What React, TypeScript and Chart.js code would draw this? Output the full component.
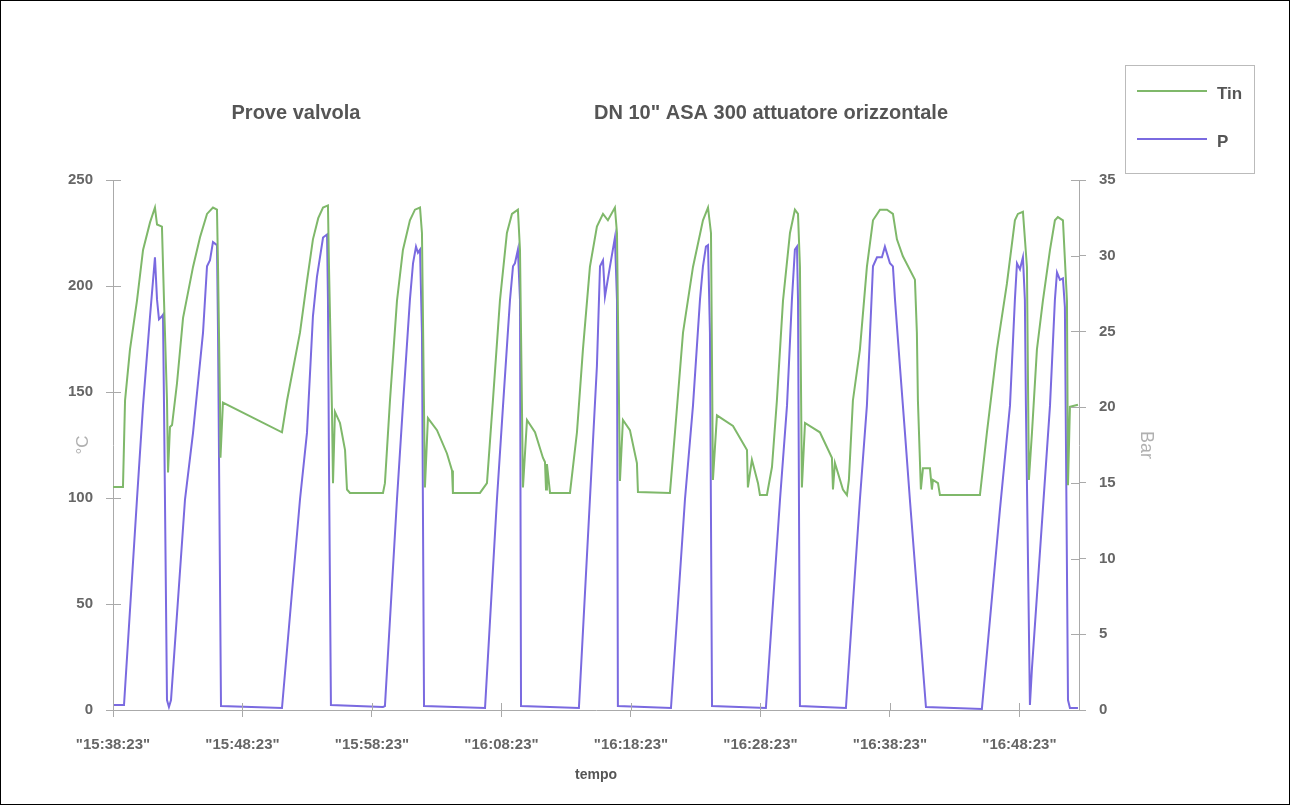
import React, { useEffect, useRef } from "react";
import { Chart, registerables } from "chart.js";

Chart.register(...registerables);

// ---- data (minutes after 15:38:23) ----
const tickMinutes = [0, 10, 20, 30, 40, 50, 60, 70];
const tickLabels = ['"15:38:23"', '"15:48:23"', '"15:58:23"', '"16:08:23"', '"16:18:23"', '"16:28:23"', '"16:38:23"', '"16:48:23"'];
const chartTitles = ["Prove valvola", 'DN 10" ASA 300 attuatore orizzontale'];
const seriesLabels = ["Tin", "P"];
const axisTitles = ["°C", "Bar", "tempo"];

const tinMinutes = [
  0, 0.77, 0.93, 1.31, 1.85, 2.32, 2.86, 3.24, 3.4, 3.78, 3.94, 4.17, 4.25, 4.4, 4.56, 4.94, 5.41, 6.18, 6.72, 7.26, 7.72,
  8.03, 8.11, 8.26, 8.3, 8.49, 13.05, 13.44, 14.44, 14.95, 15.44, 15.85, 16.22, 16.6, 16.68, 16.91, 16.99, 17.14, 17.53, 17.92, 18.07, 18.3,
  20.85, 21.0, 21.39, 21.93, 22.39, 22.93, 23.32, 23.71, 23.86, 24.09, 24.32, 25.02, 25.79, 26.18, 26.25,
  28.34, 28.88, 29.34, 29.88, 30.42, 30.81, 31.27, 31.43, 31.66, 31.97, 32.59, 33.2, 33.36, 33.44, 33.51, 33.75,
  35.29, 35.83, 36.29, 36.83, 37.37, 37.84, 38.22, 38.76, 38.92, 39.15, 39.38, 39.92, 40.46, 40.54,
  43.01, 43.4, 44.02, 44.79, 45.56, 45.95, 46.18, 46.33, 46.64, 47.88, 48.96, 49.03, 49.34, 49.81, 49.96,
  50.5, 50.89, 51.27, 51.74, 52.28, 52.66, 52.9, 53.05, 53.2, 53.44, 54.59, 55.52, 55.6, 55.75, 56.37, 56.68,
  56.83, 57.14, 57.68, 58.22, 58.69, 59.23, 59.77, 60.23, 60.54, 61.0, 61.93, 62.08, 62.16, 62.39, 62.55, 63.09,
  63.24, 63.32, 63.71, 63.86, 66.95, 67.49, 68.26, 69.03, 69.65, 69.88, 70.27, 70.58, 70.73, 70.97, 71.35, 71.81,
  72.36, 72.74, 72.97, 73.36, 73.67, 73.75, 73.9, 74.52,
];
const tinValues = [
  105.2, 105.2, 146, 170, 193, 217, 230, 237, 229, 228, 193, 146, 112, 133.5, 134.4, 154, 185, 209, 223, 234, 237,
  236, 209, 146, 119, 145, 131, 146, 178, 201, 222, 232, 237, 238, 209, 141.5, 107, 140.6, 135.4, 122.6, 104, 102.4,
  102.4, 107, 146, 193, 217, 231, 236, 237, 225, 105, 137.7, 132, 121, 113, 102.4,
  102.4, 107, 146, 193, 225, 234, 236, 217, 105, 136.8, 131, 119, 117, 104, 116, 102.4,
  102.4, 131, 170, 209, 228, 234, 231, 237, 225, 108, 136.8, 132, 116.5, 102.8,
  102.4, 131, 178, 209, 231, 237, 225, 108.5, 139, 134, 122.6, 105, 118, 107, 101.4,
  101.4, 114.6, 146, 193, 225, 236, 234, 209, 105, 135.4, 131, 119, 104, 116.5, 104, 101.4,
  108.5, 146, 170, 209, 231, 236, 236, 234, 222, 214, 203, 178, 146, 104, 114, 114,
  104, 108.5, 107, 101.4, 101.4, 131, 170, 201, 231, 234, 235, 209, 108.5, 131, 170, 193,
  217, 231, 232.5, 231, 193, 106, 143, 144,
];

const pMinutes = [
  0, 0.85, 1.85, 2.32, 2.86, 3.24, 3.4, 3.55, 3.78, 3.86, 3.94, 4.17, 4.32, 4.48, 5.56, 6.18, 6.95, 7.26, 7.49, 7.72,
  8.03, 8.11, 8.34, 13.05, 14.44, 14.98, 15.44, 15.75, 16.22, 16.53, 16.6, 16.68, 16.83,
  20.85, 21.0, 21.93, 22.39, 22.93, 23.17, 23.4, 23.55, 23.71, 23.86, 24.02,
  28.73, 29.65, 30.12, 30.66, 30.89, 31.04, 31.27, 31.43, 31.51,
  35.98, 36.83, 37.37, 37.61, 37.84, 37.99, 38.38, 38.76, 38.92, 38.99,
  43.09, 44.17, 44.79, 45.33, 45.56, 45.79, 45.95, 46.1, 46.26,
  50.42, 51.51, 52.05, 52.43, 52.66, 52.82, 52.9, 53.05,
  56.6, 57.68, 58.22, 58.69, 59.0, 59.38, 59.61, 60.0, 60.23, 60.39, 60.77, 61.16, 61.54, 62.78,
  67.1, 68.49, 69.27, 69.65, 69.81, 70.04, 70.27, 70.42, 70.5, 70.81, 70.97, 72.36, 72.74, 72.9, 73.13, 73.36,
  73.51, 73.75, 73.9, 74.52,
];
const pValues = [
  0.33, 0.33, 13.9, 20.1, 26.0, 29.9, 27.1, 25.8, 26.0, 26.1, 20.1, 0.66, 0.2, 0.66, 13.9, 18.3, 24.9, 29.3, 29.7, 30.9,
  30.7, 24.9, 0.26, 0.13, 13.9, 18.3, 26.0, 28.6, 31.2, 31.4, 27.1, 16.05, 0.33,
  0.2, 0.26, 13.9, 20.1, 27.1, 29.5, 30.6, 30.2, 30.4, 24.9, 0.26,
  0.13, 13.9, 20.1, 27.1, 29.3, 29.5, 30.4, 27.1, 0.26,
  0.13, 13.9, 22.7, 29.3, 29.7, 27.3, 29.3, 31.2, 27.1, 0.26,
  0.13, 13.9, 20.1, 27.1, 29.3, 30.6, 30.7, 24.9, 0.26,
  0.13, 13.9, 20.1, 27.1, 30.4, 30.6, 27.1, 0.26,
  0.13, 13.9, 20.1, 29.3, 29.9, 29.9, 30.6, 29.5, 29.3, 27.1, 22.7, 18.3, 13.9, 0.2,
  0.07, 13.2, 20.1, 27.1, 29.5, 29.1, 29.9, 27.1, 20.1, 0.33, 2.8, 20.1, 27.1, 28.9, 28.4, 28.5,
  26.6, 0.66, 0.13, 0.13,
];

const GREEN = "#7fb86a";
const PURPLE = "#7a6ae0";
const AXIS = "#aaaaaa";
const SANS = '"Liberation Sans", Arial, sans-serif';

export default function App() {
  const ref = useRef<HTMLCanvasElement>(null);

  useEffect(() => {
    document.body.style.margin = "0";
    const canvas = ref.current;
    if (!canvas) return;

    const overlay = {
      id: "overlay",
      afterDraw(chart: any) {
        const ctx = chart.ctx;
        const { left, right, bottom } = chart.chartArea;
        ctx.save();
        ctx.strokeStyle = AXIS;
        ctx.lineWidth = 1;
        ctx.beginPath();
        const ys = chart.scales.y;
        const y1 = chart.scales.y1;
        const xs = chart.scales.x;
        ys.ticks.forEach((t: any) => {
          const p = Math.round(ys.getPixelForValue(t.value)) + 0.5;
          ctx.moveTo(left, p);
          ctx.lineTo(left + 8, p);
        });
        y1.ticks.forEach((t: any) => {
          const p = Math.round(y1.getPixelForValue(t.value)) + 0.5;
          ctx.moveTo(right - 8, p);
          ctx.lineTo(right, p);
        });
        xs.ticks.forEach((t: any) => {
          const p = Math.round(xs.getPixelForValue(t.value)) + 0.5;
          ctx.moveTo(p, bottom);
          ctx.lineTo(p, bottom - 7);
        });
        ctx.stroke();

        // titles
        ctx.fillStyle = "#555555";
        ctx.font = `bold 20px ${SANS}`;
        ctx.textAlign = "center";
        ctx.textBaseline = "middle";
        ctx.fillText(chartTitles[0], 295, 112);
        ctx.fillText(chartTitles[1], 770, 112);

        // legend box
        ctx.strokeStyle = "#bbbbbb";
        ctx.strokeRect(1124.5, 64.5, 129, 108);
        const colors = [GREEN, PURPLE];
        const rows = [90, 138];
        ctx.font = `bold 17px ${SANS}`;
        ctx.textAlign = "left";
        seriesLabels.forEach((lab, i) => {
          ctx.strokeStyle = colors[i];
          ctx.lineWidth = 2;
          ctx.beginPath();
          ctx.moveTo(1136, rows[i]);
          ctx.lineTo(1206, rows[i]);
          ctx.stroke();
          ctx.fillStyle = "#555555";
          ctx.fillText(lab, 1216, rows[i] + 3);
        });
        ctx.restore();
      },
    };

    const tickFont = { family: SANS, size: 15, weight: "bold" as const };

    const chart = new Chart(canvas, {
      type: "line",
      data: {
        datasets: [
          {
            label: seriesLabels[0],
            data: tinMinutes.map((m, i) => ({ x: m, y: tinValues[i] })),
            borderColor: GREEN,
            borderWidth: 2,
            pointRadius: 0,
            tension: 0,
            yAxisID: "y",
          },
          {
            label: seriesLabels[1],
            data: pMinutes.map((m, i) => ({ x: m, y: pValues[i] })),
            borderColor: PURPLE,
            borderWidth: 2,
            pointRadius: 0,
            tension: 0,
            yAxisID: "y1",
          },
        ],
      },
      options: {
        animation: false,
        responsive: true,
        maintainAspectRatio: false,
        layout: { padding: { top: 179, left: 0, right: 0, bottom: 0 } },
        plugins: { legend: { display: false }, tooltip: { enabled: false } },
        scales: {
          x: {
            type: "linear",
            min: 0,
            max: 74.6,
            afterBuildTicks: (s: any) => {
              s.ticks = tickMinutes.map((v) => ({ value: v }));
            },
            afterFit: (s: any) => {
              s.height = 94;
            },
            ticks: {
              callback: (v: any) => {
                const i = tickMinutes.indexOf(Number(v));
                return i >= 0 ? tickLabels[i] : "";
              },
              font: tickFont,
              color: "#666666",
              padding: 19,
              maxRotation: 0,
              autoSkip: false,
            },
            grid: { drawOnChartArea: false, color: AXIS, tickLength: 7 },
            border: { color: AXIS },
            title: {
              display: true,
              text: axisTitles[2],
              font: { family: SANS, size: 14, weight: "bold" },
              color: "#555555",
              padding: { top: 0, bottom: 20 },
            },
          },
          y: {
            position: "left",
            min: 0,
            max: 250,
            ticks: { stepSize: 50, font: tickFont, color: "#666666", padding: 13 },
            afterFit: (s: any) => {
              s.width = 112;
            },
            grid: { drawOnChartArea: false, color: AXIS, tickLength: 7 },
            border: { color: AXIS },
            title: {
              display: true,
              text: axisTitles[0],
              font: { family: SANS, size: 17 },
              color: "#b0b0b0",
              padding: { top: 72, bottom: 0 },
            },
          },
          y1: {
            position: "right",
            min: 0,
            max: 35,
            ticks: { stepSize: 5, font: tickFont, color: "#666666", padding: 13 },
            afterFit: (s: any) => {
              s.width = 210;
            },
            grid: { drawOnChartArea: false, color: AXIS, tickLength: 7 },
            border: { color: AXIS },
            title: {
              display: true,
              text: axisTitles[1],
              font: { family: SANS, size: 18 },
              color: "#b0b0b0",
              padding: { top: 132, bottom: 0 },
            },
          },
        },
      },
      plugins: [overlay],
    });

    return () => chart.destroy();
  }, []);

  return (
    <div
      style={{
        width: 1290,
        height: 805,
        border: "1px solid #000",
        boxSizing: "border-box",
        background: "#ffffff",
        position: "relative",
      }}
    >
      <div style={{ position: "relative", width: 1288, height: 803 }}>
        <canvas ref={ref} />
      </div>
    </div>
  );
}
